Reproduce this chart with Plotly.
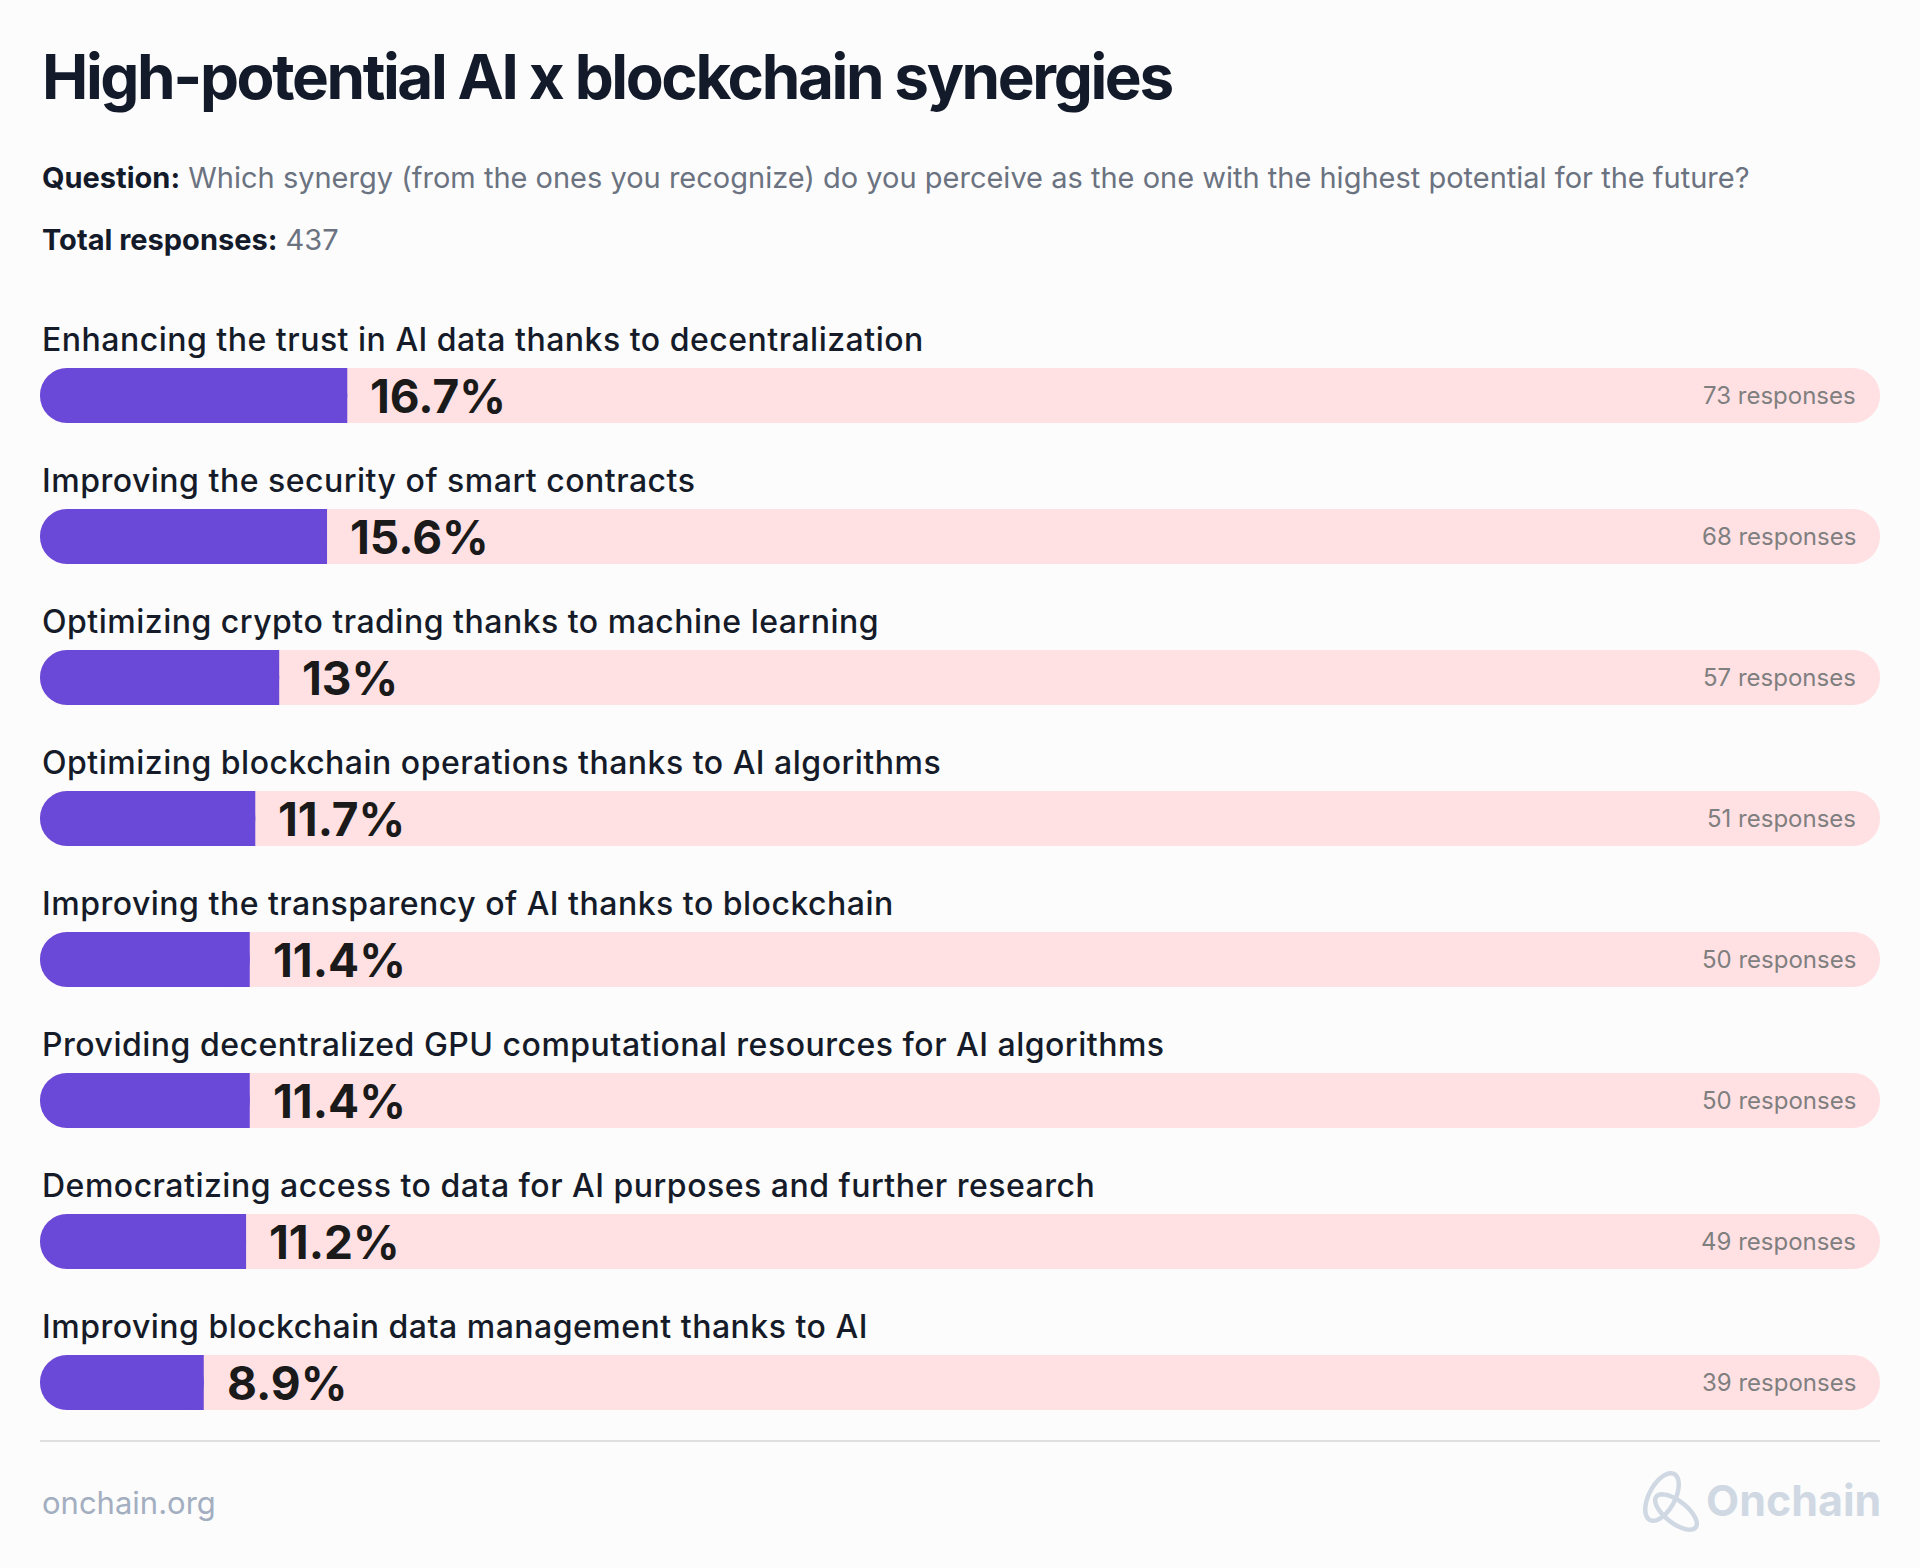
import numpy as np
import plotly.graph_objects as go

# ---------------- data ----------------
categories = [
    "Enhancing the trust in AI data thanks to decentralization",
    "Improving the security of smart contracts",
    "Optimizing crypto trading thanks to machine learning",
    "Optimizing blockchain operations thanks to AI algorithms",
    "Improving the transparency of AI thanks to blockchain",
    "Providing decentralized GPU computational resources for AI algorithms",
    "Democratizing access to data for AI purposes and further research",
    "Improving blockchain data management thanks to AI",
]
percentages = [16.7, 15.6, 13, 11.7, 11.4, 11.4, 11.2, 8.9]
responses = [73, 68, 57, 51, 50, 50, 49, 39]
scale_max = 100
title_text = "High-potential AI x blockchain synergies"
question_text = ("Which synergy (from the ones you recognize) do you perceive as the one "
                 "with the highest potential for the future?")
total_responses = 437
source_text = "onchain.org"
brand_text = "Onchain"

# ---------------- layout geometry ----------------
W, H = 1920, 1568
ML, MR = 40, 40
ROW_STEP = 141
n = len(categories)
MT = 325
PLOT_BOTTOM = MT + ROW_STEP * n
MB = H - PLOT_BOTTOM
PH = PLOT_BOTTOM - MT
PW = W - ML - MR
BAR_W = 55 / ROW_STEP


def py(p):
    return (PLOT_BOTTOM - p) / PH


def px(p):
    return (p - ML) / PW


FONT = "Inter, 'Noto Sans', sans-serif"
PURPLE = "#6a48d8"
PINK = "#ffe1e4"
BG = "#fcfcfc"

fig = go.Figure()
# full-scale track, rounded at both ends
fig.add_trace(go.Bar(
    y=categories, x=[scale_max] * n, base=[0] * n, orientation="h",
    marker=dict(color=PINK, cornerradius="50%", line=dict(width=0)),
    width=BAR_W, hoverinfo="skip", showlegend=False))
# square-cornered backing for the right end of the value bar
fig.add_trace(go.Bar(
    y=categories, x=[v / 2 for v in percentages], base=[v / 2 for v in percentages],
    orientation="h",
    marker=dict(color=PURPLE, cornerradius=0, line=dict(width=0)),
    width=BAR_W, hoverinfo="skip", showlegend=False))
# value bar, rounded (its rounded right end sits on the square backing)
fig.add_trace(go.Bar(
    y=categories, x=percentages, base=[0] * n, orientation="h",
    marker=dict(color=PURPLE, cornerradius="50%", line=dict(width=0)),
    width=BAR_W, customdata=percentages,
    hovertemplate="%{y}: %{customdata}%<extra></extra>", showlegend=False))

annotations = []
for cat, v, r in zip(categories, percentages, responses):
    annotations.append(dict(
        x=0, xref="paper", xanchor="left", y=cat, yref="y", yanchor="middle",
        yshift=56.5, text=f"<span style='letter-spacing:0.5px'>{cat}</span>", showarrow=False,
        font=dict(family=FONT, size=32, color="#151b28", weight=500)))
    annotations.append(dict(
        x=v, xref="x", xanchor="left", xshift=21, y=cat, yref="y", yanchor="middle",
        text=f"{v:g}%", showarrow=False,
        font=dict(family=FONT, size=46, color="#1a1a1a", weight=700)))
    annotations.append(dict(
        x=1, xref="paper", xanchor="right", xshift=-22, y=cat, yref="y", yanchor="middle",
        text=f"{r} responses", showarrow=False,
        font=dict(family=FONT, size=24, color="#7f7f7f", weight=400)))

annotations += [
    dict(x=0, xref="paper", xanchor="left", y=py(76), yref="paper", yanchor="middle",
         text=f"<span style='letter-spacing:-2.4px'>{title_text}</span>", showarrow=False,
         font=dict(family=FONT, size=62, color="#131a2a", weight=700)),
    dict(x=0, xref="paper", xanchor="left", y=py(177), yref="paper", yanchor="middle",
         text=f"<b>Question:</b> <span style='color:#6b7280'>{question_text}</span>",
         showarrow=False, font=dict(family=FONT, size=29, color="#131a2a", weight=400)),
    dict(x=0, xref="paper", xanchor="left", y=py(240), yref="paper", yanchor="middle",
         text=f"<b>Total responses:</b> <span style='color:#6b7280'>{total_responses}</span>",
         showarrow=False, font=dict(family=FONT, size=29, color="#131a2a", weight=400)),
    dict(x=0, xref="paper", xanchor="left", y=py(1502), yref="paper", yanchor="middle",
         text=source_text, showarrow=False,
         font=dict(family=FONT, size=31, color="#a3aec0", weight=400)),
    dict(x=1, xref="paper", xanchor="right", xshift=3, y=py(1500), yref="paper",
         yanchor="middle", text=brand_text, showarrow=False,
         font=dict(family=FONT, size=43, color="#d0d9e3", weight=700)),
]


def ellipse_path(cx, cy, a, b, ang_deg):
    t = np.linspace(0, 2 * np.pi, 60)
    ang = np.deg2rad(ang_deg)
    xs = cx + a * np.cos(t) * np.cos(ang) - b * np.sin(t) * np.sin(ang)
    ys = cy + a * np.cos(t) * np.sin(ang) + b * np.sin(t) * np.cos(ang)
    pts = [f"{px(x):.5f},{py(y):.5f}" for x, y in zip(xs, ys)]
    return "M" + " L".join(pts) + " Z"


shapes = [
    dict(type="line", xref="paper", yref="paper", x0=0, x1=1, y0=py(1441), y1=py(1441),
         line=dict(color="#d6d6da", width=1.5)),
    dict(type="path", xref="paper", yref="paper", path=ellipse_path(1662, 1497, 13, 26, 28),
         line=dict(color="#d0d9e3", width=4.5)),
    dict(type="path", xref="paper", yref="paper", path=ellipse_path(1676, 1512, 25, 11, 38),
         line=dict(color="#d0d9e3", width=4.5)),
]

fig.update_layout(
    width=W, height=H,
    margin=dict(l=ML, r=MR, t=MT, b=MB, pad=0),
    paper_bgcolor=BG, plot_bgcolor=BG,
    barmode="overlay",
    xaxis=dict(range=[0, scale_max], visible=False, fixedrange=True),
    yaxis=dict(range=[n - 0.5, -0.5], visible=False, type="category", fixedrange=True),
    annotations=annotations, shapes=shapes,
    showlegend=False,
    font=dict(family=FONT),
)

fig.write_html(
    "out.html",
    config={"displayModeBar": False},
    post_script="document.body.style.margin='0px';document.body.style.background='#fcfcfc';",
)
